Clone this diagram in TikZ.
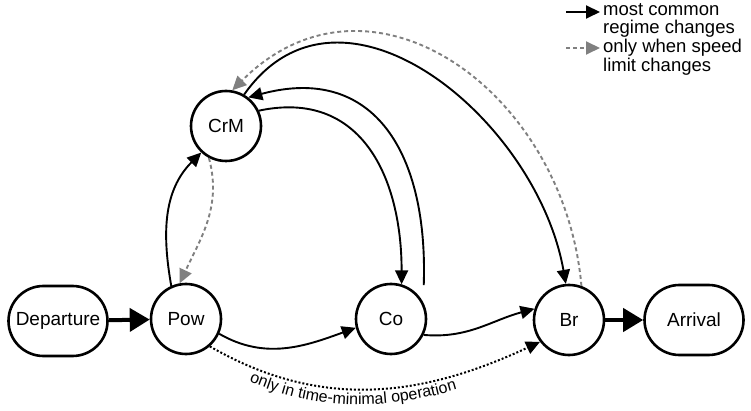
\documentclass[tikz,border=0pt]{standalone}
\usepackage{fontspec}
\setmainfont{Liberation Sans}
\usetikzlibrary{arrows.meta,decorations.text}
\definecolor{dashgray}{HTML}{808080}
\tikzset{
  x=1pt, y=1pt,
  statenode/.style={circle, draw, line width=2.6pt, minimum size=70pt, inner sep=0pt,
    font=\fontsize{19}{19}\selectfont},
  endnode/.style={rectangle, rounded corners=35pt, draw, line width=2.6pt,
    minimum width=99pt, minimum height=70pt, inner sep=0pt, font=\fontsize{19}{19}\selectfont},
  legtext/.style={align=left, inner sep=0pt, font=\fontsize{18.5}{18.5}\selectfont},
  arr/.style={line width=1.9pt, -{Triangle[length=14pt,width=13pt]}},
  grayarr/.style={line width=1.9pt, draw=dashgray, dash pattern=on 4pt off 3pt,
    -{Triangle[length=14pt,width=13pt,fill=dashgray]}},
  dotarr/.style={line width=2pt, dash pattern=on 2pt off 2pt,
    -{Triangle[length=14pt,width=13pt]}},
  bigarr/.style={line width=4pt, -{Triangle[length=20pt,width=23pt]}},
}
\begin{document}
\begin{tikzpicture}
\useasboundingbox (0,0) rectangle (751,-411);

% states
\node[endnode]   (dep) at (58,-321)  {Departure};
\node[statenode] (pow) at (186,-319) {Pow};
\node[statenode] (crm) at (226,-126) {CrM};
\node[statenode] (co)  at (391,-319) {Co};
\node[statenode] (br)  at (569,-320) {Br};
\node[endnode]   (arr) at (694,-320) {Arrival};

% entry and exit
\draw[bigarr] (dep) -- (pow);
\draw[bigarr] (br) -- (arr);

% regime changes
\draw[arr] (pow.114) to[out=100,in=225] (crm.227);
\draw[grayarr] (crm.242) to[out=-75,in=65] (pow.100);
\draw[arr] (crm.25) to[out=12,in=90,looseness=1.2] (co.73);
\draw[arr] ([shift={(3,13)}]co.35) to[out=88,in=15,looseness=1.3] (crm.52);
\draw[arr] (crm.60) to[out=55,in=100,looseness=1.15] (br.95);
\draw[grayarr] (br.70) to[out=95,in=45,looseness=1.25] (crm.80);
\draw[arr] (pow.-24) to[out=-30,in=200] (co.194);
\draw[arr] (co.-26) to[out=-5,in=195] (br.162);
\draw[dotarr] (pow.-49) to[out=-30,in=205] (br.217);
\path[decorate, decoration={text along path,
    text align={left indent=44pt},
    text={|\fontsize{16}{16}\selectfont|only in time-minimal operation}}]
  ([yshift=-15.5pt]pow.-49) to[out=-30,in=205] ([yshift=-15.5pt]br.217);

% legend
\node[legtext, anchor=north west] (leg1) at (603,-3)  {most common\\regime changes};
\node[legtext, anchor=north west] (leg2) at (603,-39) {only when speed\\limit changes};
\coordinate (la1) at (566,-12);
\coordinate (la2) at (600,-12);
\coordinate (lb1) at (566,-48);
\coordinate (lb2) at (600,-48);
\draw[arr] (la1) -- (la2);
\draw[grayarr] (lb1) -- (lb2);
\end{tikzpicture}
\end{document}
